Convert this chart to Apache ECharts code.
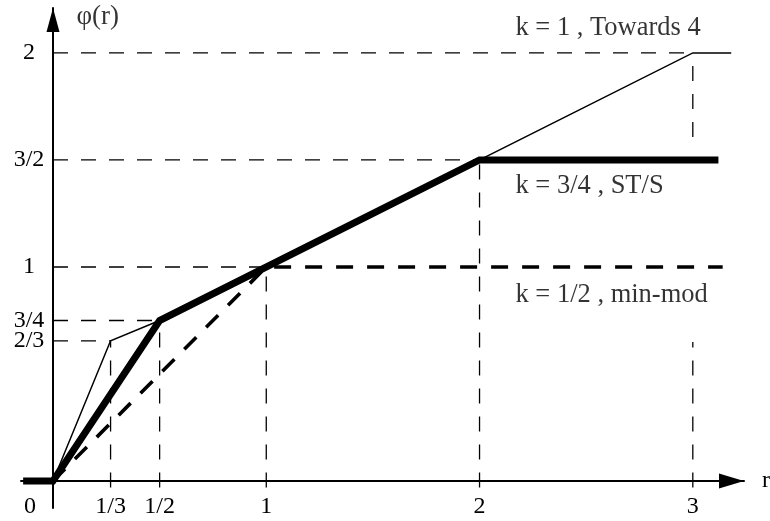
<!DOCTYPE html>
<html><head><meta charset="utf-8">
<script src="https://cdn.jsdelivr.net/npm/echarts@6/dist/echarts.min.js"></script>
<style>html,body{margin:0;padding:0;background:#fff}#c{width:770px;height:521px}</style>
</head><body><div id="c"></div>
<script>
// tick positions (as drawn) and their labels
const xTickValues = [0, 0.27, 0.5, 1, 2, 3];
const xTickLabels = ['0', '1/3', '1/2', '1', '2', '3'];
const yTickValues = [0.655, 0.75, 1, 1.5, 2];
const yTickLabels = ['2/3', '3/4', '1', '3/2', '2'];

// limiter curves phi(r)
const towards4 = [[0, 0], [0.27, 0.655], [0.5, 0.75], [3, 2], [3.18, 2]];      // k = 1
const stS = [[-0.14, 0], [0, 0], [0.5, 0.75], [2, 1.5], [3.12, 1.5]];           // k = 3/4
const minmod = [[0, 0], [1, 1], [3.14, 1]];                                    // k = 1/2

// dashed construction lines
const guideSegments = [
  [[0, 2], [3, 2]], [[0, 1.5], [2, 1.5]], [[0, 1], [1, 1]],
  [[0, 0.75], [0.5, 0.75]], [[0, 0.655], [0.27, 0.655]],
  [[0.27, -0.03], [0.27, 0.655]], [[0.5, -0.03], [0.5, 0.75]],
  [[1, -0.03], [1, 1]], [[2, -0.03], [2, 1.5]],
  [[3, -0.03], [3, 0.65]], [[3, 1.607], [3, 2]]
];
const curveLabels = ['k = 1 , Towards 4', 'k = 3/4 , ST/S', 'k = 1/2 , min-mod'];

const FONT = 'Liberation Serif';
const chart = echarts.init(document.getElementById('c'), null, {renderer: 'canvas'});

const series = [];
guideSegments.forEach(seg => {
  series.push({
    type: 'line', data: seg, showSymbol: false, silent: true, z: 1,
    lineStyle: {color: '#000', width: 1.3, type: [15, 13], cap: 'butt'}
  });
});
series.push({
  type: 'line', name: curveLabels[2], data: minmod, showSymbol: false, z: 3,
  lineStyle: {color: '#000', width: 3.6, type: [17, 14], cap: 'butt', join: 'miter'}
});
series.push({
  type: 'line', name: curveLabels[1], data: stS, showSymbol: false, z: 4,
  lineStyle: {color: '#000', width: 7, cap: 'butt', join: 'miter'}
});
series.push({
  type: 'line', name: curveLabels[0], data: towards4, showSymbol: false, z: 5,
  lineStyle: {color: '#000', width: 1.5, cap: 'butt', join: 'miter'}
});
// curve annotations
series.push({
  type: 'scatter', clip: false, symbolSize: 1, z: 6,
  itemStyle: {color: 'rgba(0,0,0,0)'},
  label: {show: true, position: 'right', distance: 0, color: '#000',
          fontFamily: FONT, fontSize: 26.5, formatter: p => p.name},
  data: [
    {name: curveLabels[0], value: [2.166, 2.117]},
    {name: curveLabels[1], value: [2.166, 1.378]},
    {name: curveLabels[2], value: [2.166, 0.869]},
    {name: 'φ(r)', value: [0.108, 2.168], label: {fontSize: 27}}
  ]
});

// the two closely spaced y labels (2/3, 3/4) are split over two overlaid axes
const yLabelFor = v => yTickLabels[yTickValues.indexOf(v)];
const yMainValues = yTickValues.filter((v, i) => i !== 1);
const yAuxValues = yTickValues.filter((v, i) => i === 1);
const yAxisBase = {
  type: 'value', min: -0.126, max: 2.21, offset: -32, position: 'left',
  axisTick: {show: false}, splitLine: {show: false}
};
const yLabelBase = {
  margin: 24, align: 'center', color: '#000', fontFamily: FONT, fontSize: 24,
  hideOverlap: false, showMinLabel: true, showMaxLabel: true, formatter: yLabelFor
};

chart.setOption({
  animation: false,
  backgroundColor: '#fff',
  grid: {left: 21, right: 26, top: 8, bottom: 13, containLabel: false, outerBoundsMode: 'none'},
  xAxis: {
    type: 'value', min: -0.15, max: 3.24, offset: -27,
    name: 'r', nameLocation: 'end', nameGap: 18,
    nameTextStyle: {color: '#000', fontFamily: FONT, fontSize: 24},
    axisLine: {onZero: false, symbol: ['none', 'triangle'], symbolSize: [15, 25],
               symbolOffset: [0, -12.5], lineStyle: {color: '#000', width: 2}},
    axisTick: {show: false}, splitLine: {show: false},
    axisLabel: {
      customValues: xTickValues, margin: 14, color: '#000', fontFamily: FONT, fontSize: 24,
      hideOverlap: false, showMinLabel: true, showMaxLabel: true,
      formatter: v => { const t = xTickLabels[xTickValues.indexOf(v)]; return v === 0 ? '{z|' + t + '}' : t; },
      rich: {z: {padding: [0, 46, 0, 0], fontFamily: FONT, fontSize: 24, color: '#000'}}
    }
  },
  yAxis: [
    Object.assign({}, yAxisBase, {
      axisLine: {onZero: false, symbol: ['none', 'triangle'], symbolSize: [13, 24],
                 symbolOffset: [0, -12], lineStyle: {color: '#000', width: 2}},
      axisLabel: Object.assign({customValues: yMainValues}, yLabelBase)
    }),
    Object.assign({}, yAxisBase, {
      axisLine: {show: false, onZero: false},
      axisLabel: Object.assign({customValues: yAuxValues}, yLabelBase)
    })
  ],
  series: series
});
</script>
</body></html>
